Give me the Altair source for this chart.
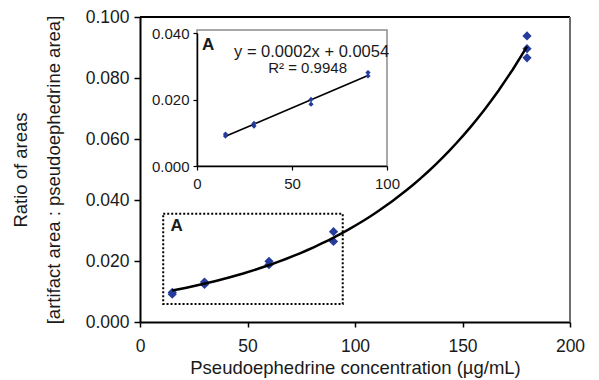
import altair as alt
import pandas as pd

# ---- data ----
conc = [15, 15, 30, 30, 60, 60, 90, 90, 180, 180, 180]
ratio = [0.0097, 0.0091, 0.0131, 0.0123, 0.0199, 0.0188, 0.0296, 0.0264, 0.0938, 0.0896, 0.0866]

inset_conc = [15, 15, 30, 30, 60, 60, 90, 90]
inset_ratio = [0.0096, 0.0090, 0.0128, 0.0120, 0.0200, 0.0186, 0.0281, 0.0271]

x_ticks = [0, 50, 100, 150, 200]
y_ticks = [0.0, 0.02, 0.04, 0.06, 0.08, 0.1]
inset_x_ticks = [0, 50, 100]
inset_y_ticks = [0.0, 0.02, 0.04]

equation = "y = 0.0002x + 0.0054"
r_squared = "R\u00b2 = 0.9948"
zoom_label = "A"
zoom_box_x = [10.8, 94.3]
zoom_box_y = [0.0059, 0.0355]

FONT = "Liberation Sans"
BLUE = "#263c9c"
INK = "#1a1a1a"

main_df = pd.DataFrame({"conc": conc, "ratio": ratio})
inset_df = pd.DataFrame({"conc": inset_conc, "ratio": inset_ratio})
one = pd.DataFrame({"label": [zoom_label]})          # single row for annotations
eq_df = pd.DataFrame({"label": [equation]})
r2_df = pd.DataFrame({"label": [r_squared]})

# ---- main plot ----
xs = alt.Scale(domain=[0, 200], nice=False, zero=False)
ys = alt.Scale(domain=[0, 0.1], nice=False)

x_axis = alt.Axis(values=x_ticks, format="d", title="Pseudoephedrine concentration (µg/mL)",
                  titleFontSize=18.5, titleFontWeight="normal", labelFontSize=17.5,
                  tickSize=5, labelPadding=10, titlePadding=4, domainWidth=2, tickWidth=1.5,
                  labelFlush=False, labelOverlap=False)
y_axis = alt.Axis(values=y_ticks, format=".3f",
                  title=["Ratio of areas", "[artifact area : pseudoephedrine area]"],
                  titleFontSize=18.5, titleFontWeight="normal", titleLineHeight=33,
                  labelFontSize=17.5, tickSize=6, labelPadding=5, titlePadding=22,
                  domainWidth=2, tickWidth=1.5, labelFlush=False, labelOverlap=False)

base = alt.Chart(main_df)

pts = base.mark_point(shape="diamond", filled=True, size=85, color=BLUE, opacity=1).encode(
    x=alt.X("conc:Q", scale=xs, axis=x_axis),
    y=alt.Y("ratio:Q", scale=ys, axis=y_axis),
)
curve = base.transform_regression("conc", "ratio", method="exp", extent=[15, 180]).mark_line(
    color="black", strokeWidth=2.5).encode(x="conc:Q", y="ratio:Q")

box = alt.Chart(one).mark_rect(fillOpacity=0, stroke="black", strokeDash=[2, 2], strokeWidth=2).encode(
    x=alt.X(datum=zoom_box_x[0]), x2=alt.X2(datum=zoom_box_x[1]),
    y=alt.Y(datum=zoom_box_y[0]), y2=alt.Y2(datum=zoom_box_y[1]))

box_label = alt.Chart(one).mark_text(font=FONT, fontSize=17, fontWeight="bold", color=INK).encode(
    text="label:N", x=alt.X(datum=17.1), y=alt.Y(datum=0.0314))

top_rule = alt.Chart(one).mark_rule(color="black", strokeWidth=2).encode(
    x=alt.X(datum=0), x2=alt.X2(datum=200), y=alt.Y(datum=0.1))
right_rule = alt.Chart(one).mark_rule(color="#6e6e6e", strokeWidth=2).encode(
    x=alt.X(datum=200), y=alt.Y(datum=0), y2=alt.Y2(datum=0.1))

main = alt.layer(pts, top_rule, right_rule, box, curve, box_label)

# ---- inset ----
ixs = alt.Scale(domain=[0, 100], range=[57, 247], nice=False, zero=False)
iys = alt.Scale(domain=[0, 0.04], range=[149, 16], nice=False)

ix_axis = alt.Axis(values=inset_x_ticks, format="d", orient="bottom", offset=-156, title=None,
                   zindex=1, labelFontSize=15, tickSize=4, labelPadding=6, domainWidth=1.5,
                   tickWidth=1.2, labelFlush=False, labelOverlap=False)
iy_axis = alt.Axis(values=inset_y_ticks, format=".3f", orient="left", offset=-57, title=None,
                   zindex=1, labelFontSize=15, tickSize=4, labelPadding=4, domainWidth=1.5,
                   tickWidth=1.2, labelFlush=False, labelOverlap=False)

ibase = alt.Chart(inset_df)
ibg = alt.Chart(one).mark_rect(fill="white", stroke="#8c8c8c", strokeWidth=1.5).encode(
    x=alt.X(datum=0, scale=ixs, axis=ix_axis), x2=alt.X2(datum=100),
    y=alt.Y(datum=0, scale=iys, axis=iy_axis), y2=alt.Y2(datum=0.0409))
iline = ibase.transform_regression("conc", "ratio", method="linear", extent=[15, 90]).mark_line(
    color="black", strokeWidth=1.6).encode(x="conc:Q", y="ratio:Q")
ipts = ibase.mark_point(shape="diamond", filled=True, size=28, color=BLUE, opacity=1).encode(
    x="conc:Q", y="ratio:Q")
ieq = alt.Chart(eq_df).mark_text(font=FONT, fontSize=16.5, fontWeight="normal", color=INK).encode(
    text="label:N", x=alt.X(datum=60.3), y=alt.Y(datum=0.0343))
ir2 = alt.Chart(r2_df).mark_text(font=FONT, fontSize=15, fontWeight="normal", color=INK).encode(
    text="label:N", x=alt.X(datum=58.2), y=alt.Y(datum=0.0294))
ia = alt.Chart(one).mark_text(font=FONT, fontSize=17, fontWeight="bold", color=INK).encode(
    text="label:N", x=alt.X(datum=5.9), y=alt.Y(datum=0.0365))

inset = alt.layer(ibg, iline, ipts, ieq, ir2, ia)

chart = alt.layer(main, inset).resolve_scale(x="independent", y="independent").resolve_axis(
    x="independent", y="independent"
).properties(
    width=430, height=305,
    padding={"left": 132, "top": 9, "right": 20, "bottom": 58},
    autosize=alt.AutoSizeParams(type="none"),
).configure_view(stroke=None).configure_axis(
    grid=False, labelFont=FONT, titleFont=FONT, domainColor="black", tickColor="black",
    labelColor=INK, titleColor=INK,
)

chart.save("out.html", embed_options={"renderer": "svg", "actions": False})
